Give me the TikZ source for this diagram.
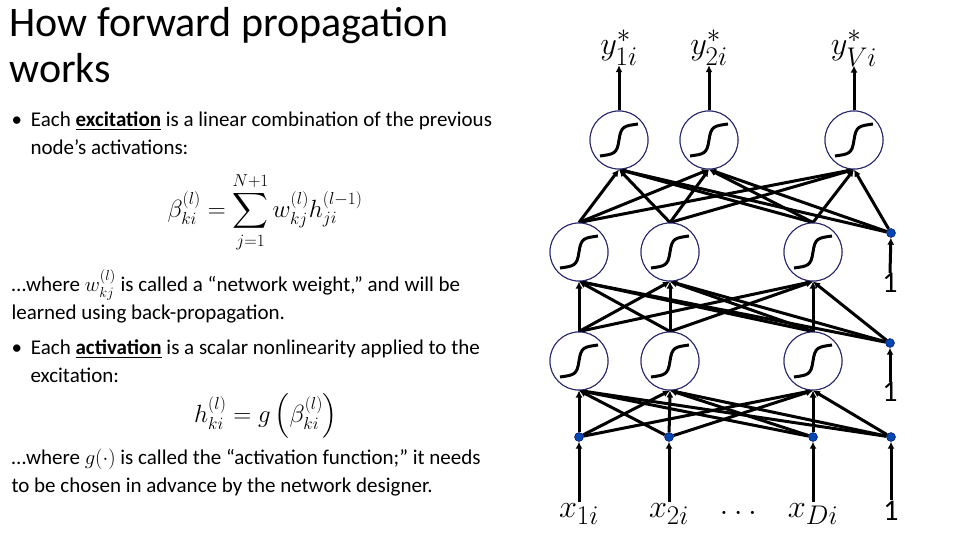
\documentclass[tikz,border=0pt]{standalone}
\usepackage{amsmath}
\usepackage{fontspec}
\setmainfont{Carlito}
\usetikzlibrary{arrows.meta}
\newcommand{\labmath}[1]{\scalebox{1.3}{$#1$}}
\begin{document}
\begin{tikzpicture}[x=1pt,y=-1pt,
  neuron/.style={circle,draw=black!60!blue!70!gray,line width=1pt,minimum width=58pt,inner sep=0pt,fill=white},
  bias/.style={circle,fill=blue!60!cyan!70!black,draw=blue!40!black,inner sep=0pt,minimum size=9pt},
  edge/.style={line width=3pt,-{Latex[length=7pt,width=7pt]}},
  body/.style={font=\fontsize{21}{28}\selectfont,anchor=north west,align=left},
  lab/.style={font=\fontsize{32}{32}\selectfont},
  one/.style={font=\fontsize{30}{30}\selectfont}]
\useasboundingbox (0,0) rectangle (960,540);
\newcommand{\sig}[1]{\draw[line width=3pt] ([shift={(-19,16)}]#1.center) .. controls +(14,-2) and +(-2,14) .. (#1.center) .. controls +(2,-14) and +(-14,2) .. ([shift={(19,-16)}]#1.center);}
\foreach \n/\x in {1/579,2/670,3/813}{
  \node[neuron] (a\n) at (\x,361) {};
  \node[neuron] (b\n) at (\x,252) {};
}
\foreach \n/\x in {1/619,2/709,3/854}{\node[neuron] (c\n) at (\x,140) {};}
\foreach \n/\x in {1/579,2/669,3/813,4/891}{\node[bias] (x\n) at (\x,437) {};}
\node[bias] (ba) at (890,343) {};
\node[bias] (bb) at (891,233) {};
\foreach \i in {1,2,3,4}{\foreach \j in {1,2,3}{\draw[edge] (x\i) -- (a\j.south);}}
\foreach \i in {1,2,3}{\foreach \j in {1,2,3}{\draw[edge] (a\i.north) -- (b\j.south);}}
\foreach \j in {1,2,3}{\draw[edge] (ba) -- (b\j.south);}
\foreach \i in {1,2,3}{\foreach \j in {1,2,3}{\draw[edge] (b\i.north) -- (c\j.south);}}
\foreach \j in {1,2,3}{\draw[edge] (bb) -- (c\j.south);}
\foreach \n/\x in {1/579,2/670,3/813}{
  \node[neuron] at (\x,361) {}; \sig{a\n}
  \node[neuron] at (\x,252) {}; \sig{b\n}
}
\foreach \n/\x in {1/619,2/709,3/854}{\node[neuron] at (\x,140) {}; \sig{c\n}}
\node[lab] (y1) at (619,48) {\labmath{y_{1i}^*}};
\node[lab] (y2) at (709,48) {\labmath{y_{2i}^*}};
\node[lab] (y3) at (854,48) {\labmath{y_{Vi}^*}};
\foreach \n in {1,2,3}{\draw[edge] (c\n.north) -- ([yshift=4pt]y\n.south);}
\node[lab] (i1) at (579,514) {\labmath{x_{1i}}};
\node[lab] (i2) at (669,514) {\labmath{x_{2i}}};
\node[lab] (dots) at (741,513) {\labmath{\dots}};
\node[lab] (i3) at (813,514) {\labmath{x_{Di}}};
\node[one] (i4) at (891,511) {1};
\foreach \n in {1,2,3,4}{\draw[edge] ([yshift=-2pt]i\n.north) -- (x\n);}
\node[one] (o1) at (890,392) {1};
\node[one] (o2) at (890,283) {1};
\draw[edge] ([yshift=-3pt]o1.north) -- (ba);
\draw[edge] ([yshift=-3pt]o2.north) -- (bb);
\node[font=\fontsize{42}{46}\selectfont,anchor=north west,align=left] (title) at (6,4) {How forward propagation\\works};
\node[body] (t1) at (8,108) {\textbullet\hspace{9pt}Each \underline{\textbf{excitation}} is a linear combination of the previous\\\hspace{19pt}node’s activations:};
\node[font=\fontsize{23}{27}\selectfont] (m1) at (265,212) {$\displaystyle \beta_{ki}^{(l)}=\sum_{j=1}^{N+1} w_{kj}^{(l)}h_{ji}^{(l-1)}$};
\node[body] (t2) at (8,266) {\dots where $w_{kj}^{(l)}$ is called a “network weight,” and will be\\learned using back-propagation.};
\node[body] (t3) at (8,336) {\textbullet\hspace{9pt}Each \underline{\textbf{activation}} is a scalar nonlinearity applied to the\\\hspace{19pt}excitation:};
\node[font=\fontsize{23}{27}\selectfont] (m2) at (266,416) {$h_{ki}^{(l)}=g\left(\beta_{ki}^{(l)}\right)$};
\node[body] (t4) at (8,445) {\dots where $g(\cdot)$ is called the “activation function;” it needs\\to be chosen in advance by the network designer.};
\end{tikzpicture}
\end{document}
